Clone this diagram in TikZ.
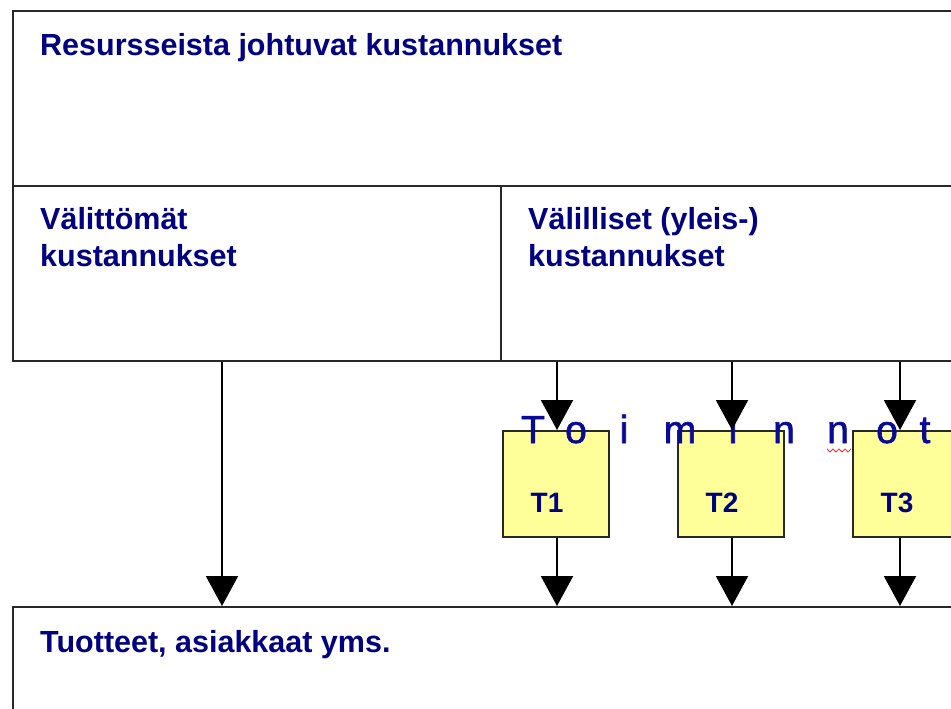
\documentclass[tikz,border=0pt]{standalone}
\usepackage{fontspec}
\setmainfont{Liberation Sans}
\newfontfamily\spacedfont[FakeBold=1.6]{Liberation Sans}
\usetikzlibrary{arrows.meta}
\definecolor{navy}{RGB}{0,0,128}
\definecolor{tblue}{RGB}{10,10,150}
\definecolor{tyellow}{RGB}{255,255,153}
\definecolor{linegray}{RGB}{40,40,40}
\begin{document}
\begin{tikzpicture}[x=1pt,y=-1pt,
  box/.style={draw=linegray, line width=2pt, rectangle, inner sep=0pt, anchor=north west},
  tbox/.style={draw=linegray, line width=1.8pt, fill=tyellow, rectangle, inner sep=0pt, anchor=north west, minimum width=106pt, minimum height=106pt},
  lbl/.style={anchor=base west, inner sep=0pt, text=navy, font=\fontsize{30.5}{36}\selectfont\bfseries},
  tlbl/.style={anchor=base, inner sep=0pt, text=navy, font=\fontsize{28}{34}\selectfont\bfseries},
  letter/.style={anchor=base, inner sep=0pt, text=tblue, font=\spacedfont\fontsize{39}{47}\selectfont},
  arr/.style={draw=black, line width=2pt, -{Triangle[length=30pt,width=32pt]}}
]
\useasboundingbox (0,0) rectangle (951,709);
\clip (0,0) rectangle (951,709);
\fill[white] (0,0) rectangle (951,709);

% boxes
\node[box, minimum width=960pt, minimum height=175pt] (res) at (12,10) {};
\node[box, minimum width=488pt, minimum height=175pt] (dir) at (12,185) {};
\node[box, minimum width=470pt, minimum height=175pt] (ind) at (500,185) {};
\node[box, minimum width=960pt, minimum height=140pt] (prod) at (12,606) {};

\node[tbox] (T1) at (502,430) {};
\node[tbox] (T2) at (677,430) {};
\node[tbox] (T3) at (852,430) {};

% labels
\node[lbl] (resl) at (40,56) {Resursseista johtuvat kustannukset};
\node[lbl] (dirl1) at (40,229) {Välittömät};
\node[lbl] (dirl2) at (40,266) {kustannukset};
\node[lbl] (indl1) at (528,229) {Välilliset (yleis-)};
\node[lbl] (indl2) at (528,266) {kustannukset};
\node[lbl] (prodl) at (40,652) {Tuotteet, asiakkaat yms.};

\node[tlbl] (t1l) at (547,512) {T1};
\node[tlbl] (t2l) at (722,512) {T2};
\node[tlbl] (t3l) at (897,512) {T3};

% spaced title
\foreach \ch/\x [count=\i] in {T/533,o/576,i/624,m/680,i/733,n/784,n/838,o/887,t/925}
  \node[letter] (tm\i) at (\x,443) {\ch};
\draw[red!80, line width=0.8pt] (827,449) -- (830,452) -- (833,449) -- (836,452) -- (839,449) -- (842,452) -- (845,449) -- (848,452) -- (851,449);

% connectors
\coordinate (c0) at (222,0);
\coordinate (c1) at (557,0);
\coordinate (c2) at (732,0);
\coordinate (c3) at (900,0);
\draw[arr] (dir.south -| c0) -- (prod.north -| c0);
\draw[arr] (ind.south -| c1) -- (T1.north -| c1);
\draw[arr] (ind.south -| c2) -- (T2.north -| c2);
\draw[arr] (ind.south -| c3) -- (T3.north -| c3);
\draw[arr] (T1.south -| c1) -- (prod.north -| c1);
\draw[arr] (T2.south -| c2) -- (prod.north -| c2);
\draw[arr] (T3.south -| c3) -- (prod.north -| c3);
\end{tikzpicture}
\end{document}
